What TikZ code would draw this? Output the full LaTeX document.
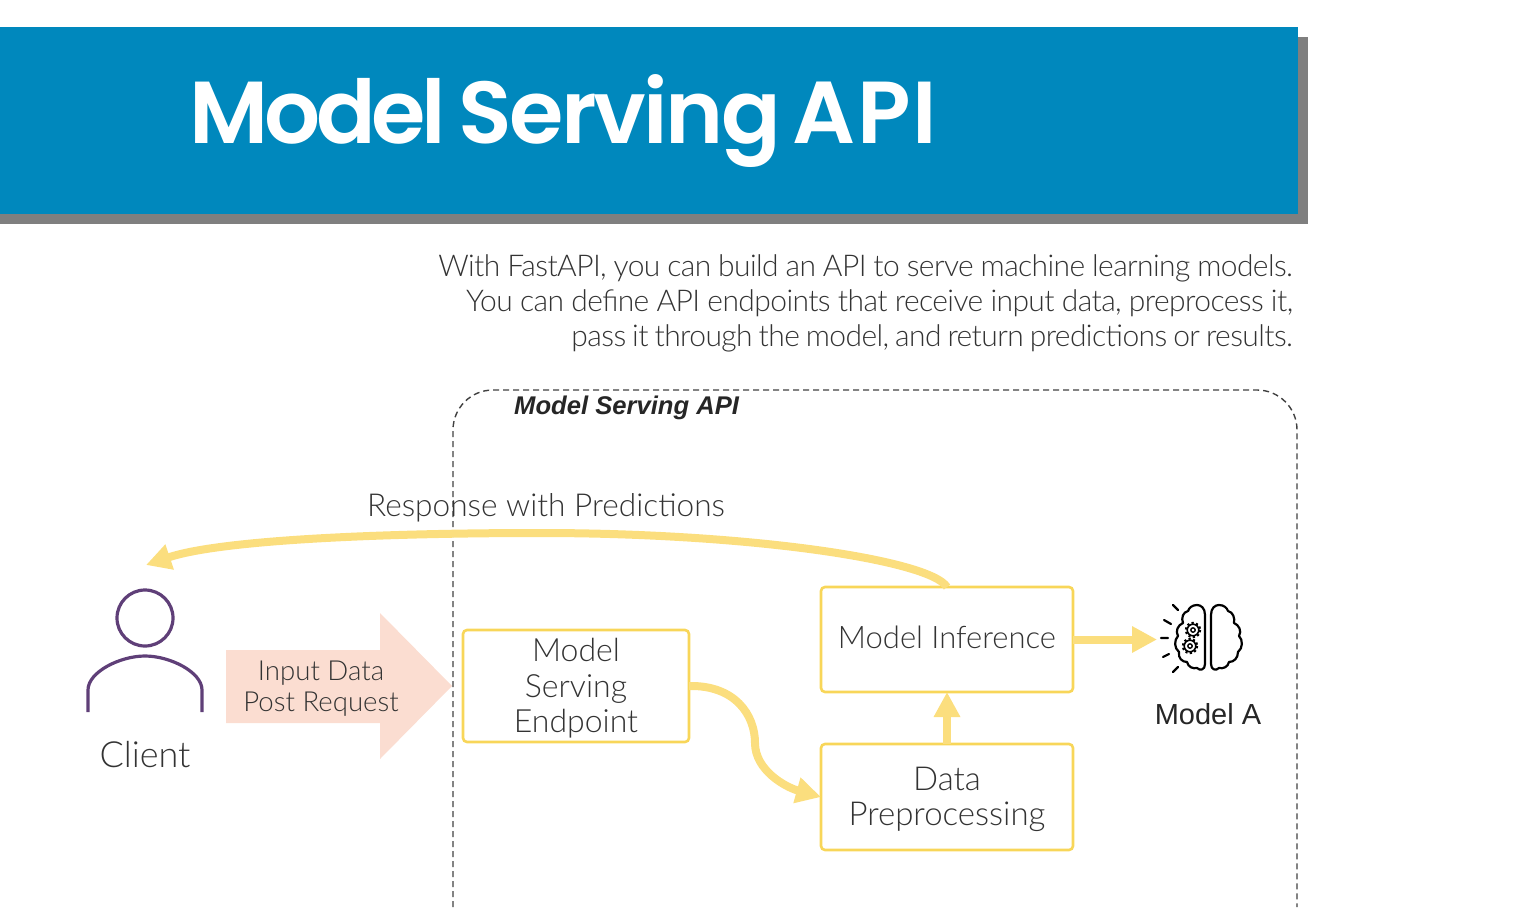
\documentclass[tikz,border=0pt]{standalone}
\usepackage{fontspec}
\setmainfont{Lato Light}
\newfontfamily\titlefa[LetterSpace=-4.7]{Poppins SemiBold}
\newfontfamily\titlefb[LetterSpace=-3]{Poppins SemiBold}
\newfontfamily\titlefc[LetterSpace=1.5]{Poppins SemiBold}
\newfontfamily\descf[LetterSpace=-2]{Lato Light}
\newfontfamily\arialf{Liberation Sans}
\usetikzlibrary{arrows.meta}
\definecolor{bluebar}{HTML}{0088BD}
\definecolor{shadowc}{HTML}{7F7F7F}
\definecolor{boxy}{HTML}{F8D659}
\definecolor{arry}{HTML}{FBDE7E}
\definecolor{pinkc}{HTML}{FBDDD1}
\definecolor{purp}{HTML}{5F3F78}
\definecolor{txt}{HTML}{333333}
\tikzset{
  stagebox/.style={draw=boxy,line width=2.6pt,rounded corners=4pt,fill=white,text=txt,align=center,anchor=north west,outer sep=0pt,inner sep=0pt},
  flow/.style={draw=arry,line width=8pt,-{Triangle[length=25pt,width=25pt]}},
  lbl/.style={text=txt,align=center,inner sep=0pt},
  brainline/.style={draw=black,line width=2.2pt,line join=round,line cap=round},
  descline/.style={anchor=base east,inner sep=0pt,text=txt},
}
\newcommand{\gearicon}[2]{%
  \draw[black,line width=1.4pt] (#1,#2) circle (2.2);
  \draw[black,line width=1.6pt] (#1,#2) circle (5.8);
  \draw[black,line width=2pt,dash pattern=on 2.2pt off 2.4pt] (#1,#2) circle (7.2);
}
\newcommand{\descset}[1]{\descf\fontsize{30}{30}\selectfont\spaceskip=\dimexpr\fontdimen2\font-#1pt\relax\xspaceskip=\spaceskip}
\begin{document}
\begin{tikzpicture}[x=1pt,y=-1pt]
\useasboundingbox (0,0) rectangle (1525,907);
% title bar
\fill[shadowc] (0,37) rectangle (1308,224);
\fill[bluebar] (0,27) rectangle (1298,214);
\node[anchor=base west,inner sep=0pt,text=white] (title) at (189,143) {\fontsize{88}{88}\selectfont\spaceskip=12pt\xspaceskip=12pt{\titlefa Model} {\titlefb Serving} {\titlefc API}};
% description
\node[descline] (d1) at (1293,276) {\descset{0.64}With FastAPI, you can build an API to serve machine learning models.};
\node[descline] (d2) at (1293,311) {\descset{0.3}You can define API endpoints that receive input data, preprocess it,};
\node[descline] (d3) at (1293,346) {\descset{1.55}pass it through the model, and return predictions or results.};
% dashed frame
\draw[dash pattern=on 6pt off 4pt,line width=1.4pt,draw=black!75] (453,907) -- (453,430) arc[start angle=180,end angle=270,radius=40] -- (1257,390) arc[start angle=270,end angle=360,radius=40] -- (1297,907);
\node[anchor=base west,inner sep=0pt,text=black!85] (apilabel) at (514,414) {\arialf\bfseries\itshape\fontsize{25.6}{25.6}\selectfont Model Serving API};
% client
\draw[purp,line width=3.2pt] (145,618) circle (28);
\draw[purp,line width=3.2pt] (88,712) -- (88,690) .. controls (88,672) and (120,656) .. (145,656) .. controls (170,656) and (202,672) .. (202,690) -- (202,712);
\node[lbl,font=\fontsize{36}{36}\selectfont] (client) at (145,755) {Client};
% input arrow
\fill[pinkc] (226,650) -- (380,650) -- (380,613) -- (452,686) -- (380,759) -- (380,723) -- (226,723) -- cycle;
\node[lbl,font=\fontsize{27.6}{31}\selectfont] (inputtext) at (321,685) {\rule{0pt}{26pt}Input Data\\Post Request};
% boxes
\node[stagebox,font=\fontsize{32}{35.5}\selectfont,minimum width=226pt,minimum height=112pt] (serve) at (463,630) {\rule{0pt}{28pt}Model\\Serving\\Endpoint};
\node[stagebox,font=\fontsize{31}{35.5}\selectfont,minimum width=252pt,minimum height=105pt] (infer) at (821,587) {Model Inference\rule[-4pt]{0pt}{0pt}};
\node[stagebox,font=\fontsize{33}{35.5}\selectfont,minimum width=252pt,minimum height=106pt] (prep) at (821,744) {\rule{0pt}{28pt}Data\\Preprocessing};
% brain
\draw[brainline] (1205,615) .. controls (1205,608) and (1201,605) .. (1197,605) .. controls (1192,605) and (1189,608) .. (1188,611) .. controls (1183,612) and (1181,618) .. (1183,623) .. controls (1178,625) and (1175,631) .. (1178,636) .. controls (1174,640) and (1174,648) .. (1179,652) .. controls (1178,658) and (1182,662) .. (1187,662) .. controls (1188,667) and (1193,669) .. (1197,668) .. controls (1200,671) and (1205,670) .. (1205,664) -- cycle;
\draw[brainline] (1211,615) .. controls (1211,608) and (1215,605) .. (1219,605) .. controls (1224,605) and (1227,608) .. (1228,611) .. controls (1233,612) and (1235,618) .. (1234,623) .. controls (1239,625) and (1242,631) .. (1239,636) .. controls (1243,640) and (1243,648) .. (1238,652) .. controls (1238,658) and (1234,662) .. (1229,662) .. controls (1228,667) and (1223,669) .. (1219,668) .. controls (1216,671) and (1211,670) .. (1211,664) -- cycle;
\gearicon{1193}{630}
\gearicon{1190}{646}
\draw[brainline] (1173,605) -- (1178,610) (1164,620) -- (1171,624) (1161,638) -- (1168,638) (1163,657) -- (1169,654) (1173,672) -- (1178,667);
\node[anchor=base,inner sep=0pt,text=black!85] (modela) at (1208,724) {\arialf\fontsize{29}{29}\selectfont Model A};
% connectors
\coordinate (clientend) at (146,565);
\coordinate (braintip) at (1157,639.5);
\draw[flow] (infer.north) .. controls (930,560) and (750,533) .. (540,533) .. controls (380,533) and (220,540) .. (clientend);
\draw[flow] (infer.east) -- (braintip);
\draw[flow] (prep.north) -- (infer.south);
\draw[flow] (serve.east) .. controls (735,685) and (755,715) .. (755,743) .. controls (755,770) and (785,787) .. (prep.west);
% response label
\node[lbl,font=\fontsize{31.6}{31.6}\selectfont,anchor=base] (resp) at (546,516) {Response with Predictions};
\end{tikzpicture}
\end{document}
